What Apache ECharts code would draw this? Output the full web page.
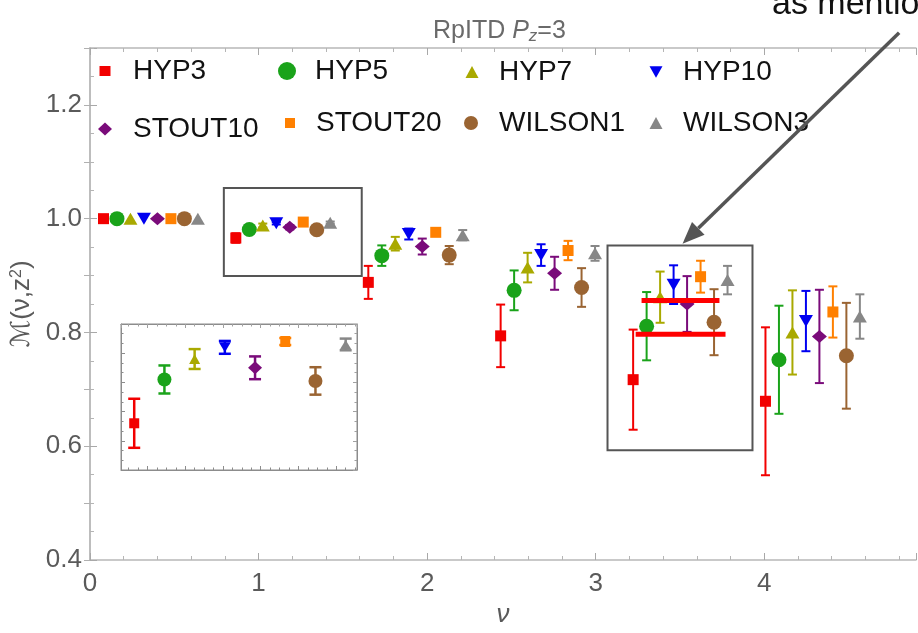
<!DOCTYPE html>
<html>
<head>
<meta charset="utf-8">
<script src="https://cdn.jsdelivr.net/npm/echarts@6/dist/echarts.min.js"></script>
<style>
  html, body { margin: 0; padding: 0; background: #ffffff; }
  #chart { width: 918px; height: 633px; }
</style>
</head>
<body>
<div id="chart"></div>
<script>
// Smearing types compared in the reduced pseudo-ITD at P_z = 3
const seriesNames = ['HYP3', 'HYP5', 'HYP7', 'HYP10', 'STOUT10', 'STOUT20', 'WILSON1', 'WILSON3'];

// Ioffe time nu of each point (each smearing is drawn slightly displaced)
const nuHYP3    = [0.08, 0.865, 1.651, 2.436, 3.222, 4.007];
const nuHYP5    = [0.16, 0.945, 1.731, 2.516, 3.302, 4.087];
const nuHYP7    = [0.24, 1.025, 1.811, 2.596, 3.382, 4.167];
const nuHYP10   = [0.32, 1.105, 1.891, 2.676, 3.462, 4.247];
const nuSTOUT10 = [0.40, 1.185, 1.971, 2.756, 3.542, 4.327];
const nuSTOUT20 = [0.48, 1.265, 2.051, 2.836, 3.622, 4.407];
const nuWILSON1 = [0.56, 1.345, 2.131, 2.916, 3.702, 4.487];
const nuWILSON3 = [0.64, 1.425, 2.211, 2.996, 3.782, 4.567];

// M(nu, z^2)
const mHYP3    = [1.000, 0.966, 0.888, 0.794, 0.717, 0.679];
const mHYP5    = [1.000, 0.981, 0.935, 0.874, 0.811, 0.752];
const mHYP7    = [1.000, 0.988, 0.956, 0.914, 0.862, 0.800];
const mHYP10   = [1.000, 0.992, 0.973, 0.936, 0.884, 0.820];
const mSTOUT10 = [1.000, 0.985, 0.951, 0.904, 0.850, 0.793];
const mSTOUT20 = [1.000, 0.994, 0.976, 0.944, 0.898, 0.836];
const mWILSON1 = [1.000, 0.9805, 0.936, 0.879, 0.818, 0.759];
const mWILSON3 = [1.000, 0.993, 0.971, 0.939, 0.892, 0.828];

// statistical errors
const errHYP3    = [0, 0.0084, 0.029, 0.055, 0.088, 0.130];
const errHYP5    = [0, 0.0048, 0.018, 0.035, 0.060, 0.095];
const errHYP7    = [0, 0.0034, 0.012, 0.026, 0.045, 0.074];
const errHYP10   = [0, 0.0022, 0.0096, 0.019, 0.034, 0.053];
const errSTOUT10 = [0, 0.0039, 0.014, 0.029, 0.049, 0.082];
const errSTOUT20 = [0, 0.0012, 0.005, 0.017, 0.028, 0.045];
const errWILSON1 = [0, 0.0047, 0.016, 0.034, 0.058, 0.093];
const errWILSON3 = [0, 0.002, 0.009, 0.013, 0.025, 0.039];

// main axis ticks
const xTicks = [0, 1, 2, 3, 4];
const yTicks = [0.4, 0.6, 0.8, 1.0, 1.2];

const nuAll  = [nuHYP3, nuHYP5, nuHYP7, nuHYP10, nuSTOUT10, nuSTOUT20, nuWILSON1, nuWILSON3];
const mAll   = [mHYP3, mHYP5, mHYP7, mHYP10, mSTOUT10, mSTOUT20, mWILSON1, mWILSON3];
const errAll = [errHYP3, errHYP5, errHYP7, errHYP10, errSTOUT10, errSTOUT20, errWILSON1, errWILSON3];

const FONT = '"Liberation Sans", Arial, "DejaVu Sans", sans-serif';
const colors = ['#f20000', '#1aa31a', '#a9a900', '#0000f0', '#7a0b7a', '#ff8000', '#9a6432', '#878787'];
const symbols = ['rect', 'circle', 'triangle', 'triangle', 'diamond', 'rect', 'circle', 'triangle'];
const rotations = [0, 0, 0, 180, 0, 0, 0, 0];
const mainSizes = [[11, 11], 15, [14, 12], [14, 12], [15, 13], [11, 11], 15, [14, 12]];
const insetSizes = [[10, 10], 14, [11, 10], [12, 10], [14, 13], [10, 11], 14, [11, 9]];
const legendIcons = ['rect', 'circle', 'triangle', 'path://M0,0L2,0L1,1.8Z', 'diamond', 'rect', 'circle', 'triangle'];

const DARK = '#5a5a5a';

function errorBarRenderer(capHalf, lineWidth) {
  return function (params, api) {
    const x = api.value(0), y = api.value(1), e = api.value(2);
    if (!e) return null;
    const top = api.coord([x, y + e]);
    const bot = api.coord([x, y - e]);
    const style = { stroke: api.visual('color'), lineWidth: lineWidth };
    return {
      type: 'group',
      children: [
        { type: 'line', shape: { x1: top[0], y1: top[1], x2: bot[0], y2: bot[1] }, style: style },
        { type: 'line', shape: { x1: top[0] - capHalf, y1: top[1], x2: top[0] + capHalf, y2: top[1] }, style: style },
        { type: 'line', shape: { x1: bot[0] - capHalf, y1: bot[1], x2: bot[0] + capHalf, y2: bot[1] }, style: style }
      ]
    };
  };
}

const series = [];
seriesNames.forEach(function (name, i) {
  const rows = nuAll[i].map(function (nu, k) { return [nu, mAll[i][k], errAll[i][k]]; });
  // main panel
  series.push({
    name: name, type: 'custom', xAxisIndex: 0, yAxisIndex: 0,
    renderItem: errorBarRenderer(4.5, 2), itemStyle: { color: colors[i] },
    encode: { x: 0, y: 1 }, data: rows, z: 2, silent: true
  });
  series.push({
    name: name, type: 'scatter', xAxisIndex: 0, yAxisIndex: 0,
    symbol: symbols[i], symbolRotate: rotations[i], symbolSize: mainSizes[i],
    itemStyle: { color: colors[i], opacity: 1 }, data: rows.map(function (r) { return [r[0], r[1]]; }), z: 3
  });
  // inset: magnified second point
  series.push({
    name: name, type: 'custom', xAxisIndex: 2, yAxisIndex: 2,
    renderItem: errorBarRenderer(6, 2.5), itemStyle: { color: colors[i] },
    encode: { x: 0, y: 1 }, data: [rows[1]], z: 4, silent: true
  });
  series.push({
    name: name, type: 'scatter', xAxisIndex: 2, yAxisIndex: 2,
    symbol: symbols[i], symbolRotate: rotations[i], symbolSize: insetSizes[i],
    itemStyle: { color: colors[i], opacity: 1 }, data: [[rows[1][0], rows[1][1]]], z: 5
  });
});

// legend layout: icon centre, icon size, text start
const legendLayout = [
  { cx: 105, cy: 71, w: 11, h: 10, tx: 133 },
  { cx: 287, cy: 71, w: 18, h: 18, tx: 315 },
  { cx: 472, cy: 72, w: 13, h: 12, tx: 499 },
  { cx: 656, cy: 72, w: 13, h: 12, tx: 683 },
  { cx: 105, cy: 129, w: 14, h: 13, tx: 133 },
  { cx: 290, cy: 123, w: 10, h: 10, tx: 316 },
  { cx: 471, cy: 123, w: 14, h: 14, tx: 499 },
  { cx: 656, cy: 123, w: 13, h: 12, tx: 683 }
];
const legends = seriesNames.map(function (name, i) {
  const L = legendLayout[i];
  return {
    data: [{ name: name, icon: legendIcons[i] }],
    left: L.cx - L.w / 2, top: L.cy - 14, padding: 0,
    itemWidth: L.w, itemHeight: L.h,
    selectedMode: false,
    textStyle: { fontSize: 28, color: '#111', fontFamily: FONT, padding: [0, 0, 0, L.tx - (L.cx + L.w / 2) - 5] }
  };
});

const frameLine = { lineStyle: { color: '#b8b8b8', width: 1.5 } };
const insetLine = { lineStyle: { color: '#8c8c8c', width: 1 } };

const option = {
  animation: false,
  backgroundColor: '#ffffff',
  title: {
    text: 'RpITD {it|P}{sub|z}=3',
    left: 428, top: 13,
    textStyle: {
      fontSize: 25, color: '#6a6a6a', fontWeight: 'normal', fontFamily: FONT,
      rich: {
        it: { fontSize: 25, fontStyle: 'italic', color: '#6a6a6a', fontFamily: FONT },
        sub: { fontSize: 17, fontStyle: 'italic', color: '#6a6a6a', fontFamily: FONT, verticalAlign: 'bottom', padding: [10, 0, 0, 0] }
      }
    }
  },
  legend: legends,
  grid: [
    { left: 90, right: 2, top: 48, bottom: 70, show: false },
    { left: 121, top: 324, width: 236, height: 146, show: true, backgroundColor: '#ffffff', borderColor: '#8c8c8c', borderWidth: 1 }
  ],
  xAxis: [
    {
      type: 'value', gridIndex: 0, position: 'bottom', min: xTicks[0], max: 4.9, interval: 1,
      axisLine: frameLine,
      axisTick: { inside: true, length: 7, lineStyle: { color: '#a8a8a8' } },
      minorTick: { show: true, splitNumber: 5, length: 4, lineStyle: { color: '#b5b5b5' } },
      splitLine: { show: false },
      axisLabel: { fontSize: 26, color: DARK, margin: 11, fontFamily: FONT, showMaxLabel: false },
      name: 'ν', nameLocation: 'middle', nameGap: 42,
      nameTextStyle: { fontSize: 26, fontStyle: 'italic', color: DARK, fontFamily: FONT }
    },
    {
      type: 'value', gridIndex: 0, position: 'top', min: 0, max: 4.9, interval: 1,
      axisLine: frameLine,
      axisTick: { inside: true, length: 7, lineStyle: { color: '#a8a8a8' } },
      minorTick: { show: true, splitNumber: 5, length: 4, lineStyle: { color: '#b5b5b5' } },
      splitLine: { show: false }, axisLabel: { show: false }
    },
    {
      type: 'value', gridIndex: 1, position: 'bottom', min: 0.83, max: 1.455,
      axisLine: insetLine,
      axisTick: { inside: true, length: 4, lineStyle: { color: '#8c8c8c' } },
      minorTick: { show: true, splitNumber: 4, length: 2.5, lineStyle: { color: '#8c8c8c' } },
      splitLine: { show: false }, axisLabel: { show: false }
    },
    {
      type: 'value', gridIndex: 1, position: 'top', min: 0.83, max: 1.455,
      axisLine: insetLine,
      axisTick: { inside: true, length: 4, lineStyle: { color: '#a0a0a0' } },
      minorTick: { show: true, splitNumber: 4, length: 2.5, lineStyle: { color: '#a0a0a0' } },
      splitLine: { show: false }, axisLabel: { show: false }
    }
  ],
  yAxis: [
    {
      type: 'value', gridIndex: 0, position: 'left', min: yTicks[0], max: 1.3, interval: 0.2,
      axisLine: frameLine,
      axisTick: { inside: true, length: 7, lineStyle: { color: '#a8a8a8' } },
      minorTick: { show: true, splitNumber: 4, length: 4, lineStyle: { color: '#b5b5b5' } },
      splitLine: { show: false },
      axisLabel: {
        fontSize: 26, color: DARK, margin: 8, fontFamily: FONT, showMaxLabel: false,
        formatter: function (v) { return v.toFixed(1); }
      },
      name: '{a|ℳ(ν,z}{s|2}{a|)}', nameLocation: 'middle', nameGap: 54, nameRotate: 90,
      nameTextStyle: {
        color: DARK, fontFamily: FONT,
        rich: {
          a: { fontSize: 26, color: DARK, fontFamily: FONT },
          s: { fontSize: 16, color: DARK, fontFamily: FONT, verticalAlign: 'top', padding: [0, 0, 10, 0] }
        }
      }
    },
    {
      type: 'value', gridIndex: 0, position: 'right', min: 0.4, max: 1.3, interval: 0.1,
      axisLine: frameLine,
      axisTick: { inside: true, length: 6, lineStyle: { color: '#b0b0b0' } },
      splitLine: { show: false }, axisLabel: { show: false }
    },
    {
      type: 'value', gridIndex: 1, position: 'left', min: 0.95, max: 1.0, interval: 0.01,
      axisLine: insetLine,
      axisTick: { inside: true, length: 4, lineStyle: { color: '#8c8c8c' } },
      minorTick: { show: true, splitNumber: 3, length: 2.5, lineStyle: { color: '#8c8c8c' } },
      splitLine: { show: false }, axisLabel: { show: false }
    },
    {
      type: 'value', gridIndex: 1, position: 'right', min: 0.95, max: 1.0, interval: 0.01,
      axisLine: insetLine,
      axisTick: { inside: true, length: 4, lineStyle: { color: '#a0a0a0' } },
      minorTick: { show: true, splitNumber: 3, length: 2.5, lineStyle: { color: '#a0a0a0' } },
      splitLine: { show: false }, axisLabel: { show: false }
    }
  ],
  series: series
};

const chart = echarts.init(document.getElementById('chart'), null, { renderer: 'canvas' });
chart.setOption(option);

// annotations placed in data space of the main panel
function toPx(nu, m) { return chart.convertToPixel({ seriesIndex: 1 }, [nu, m]); }
function boxFrom(a, b) {
  const p = toPx(a[0], a[1]), q = toPx(b[0], b[1]);
  return {
    type: 'rect', z: 50,
    shape: { x: Math.min(p[0], q[0]), y: Math.min(p[1], q[1]), width: Math.abs(q[0] - p[0]), height: Math.abs(q[1] - p[1]) },
    style: { fill: 'none', stroke: '#555555', lineWidth: 2 }
  };
}
function levelLine(nu0, nu1, m) {
  const p = toPx(nu0, m), q = toPx(nu1, m);
  return { type: 'line', z: 60, shape: { x1: p[0], y1: p[1], x2: q[0], y2: q[1] }, style: { stroke: '#ff0000', lineWidth: 5 } };
}

const arrowFrom = toPx(4.80, 1.327);
const arrowTip = toPx(3.515, 0.956);
const dx = arrowTip[0] - arrowFrom[0], dy = arrowTip[1] - arrowFrom[1];
const len = Math.sqrt(dx * dx + dy * dy);
const ux = dx / len, uy = dy / len;
const headLen = 22, headHalf = 9;
const base = [arrowTip[0] - ux * headLen, arrowTip[1] - uy * headLen];

chart.setOption({
  graphic: [
    boxFrom([0.794, 1.054], [1.612, 0.899]),
    boxFrom([3.07, 0.953], [3.93, 0.593]),
    levelLine(3.272, 3.734, 0.856),
    levelLine(3.237, 3.770, 0.797),
    {
      type: 'line', z: 70,
      shape: { x1: arrowFrom[0], y1: arrowFrom[1], x2: base[0], y2: base[1] },
      style: { stroke: '#555555', lineWidth: 3.5 }
    },
    {
      type: 'polygon', z: 70,
      shape: { points: [arrowTip, [base[0] - uy * headHalf, base[1] + ux * headHalf], [base[0] + uy * headHalf, base[1] - ux * headHalf]] },
      style: { fill: '#555555' }
    },
    {
      type: 'text', z: 80, x: 772, y: 22,
      style: { text: 'as mentioned', fill: '#111111', fontSize: 34, fontFamily: FONT, verticalAlign: 'bottom', align: 'left' }
    }
  ]
});
</script>
</body>
</html>
